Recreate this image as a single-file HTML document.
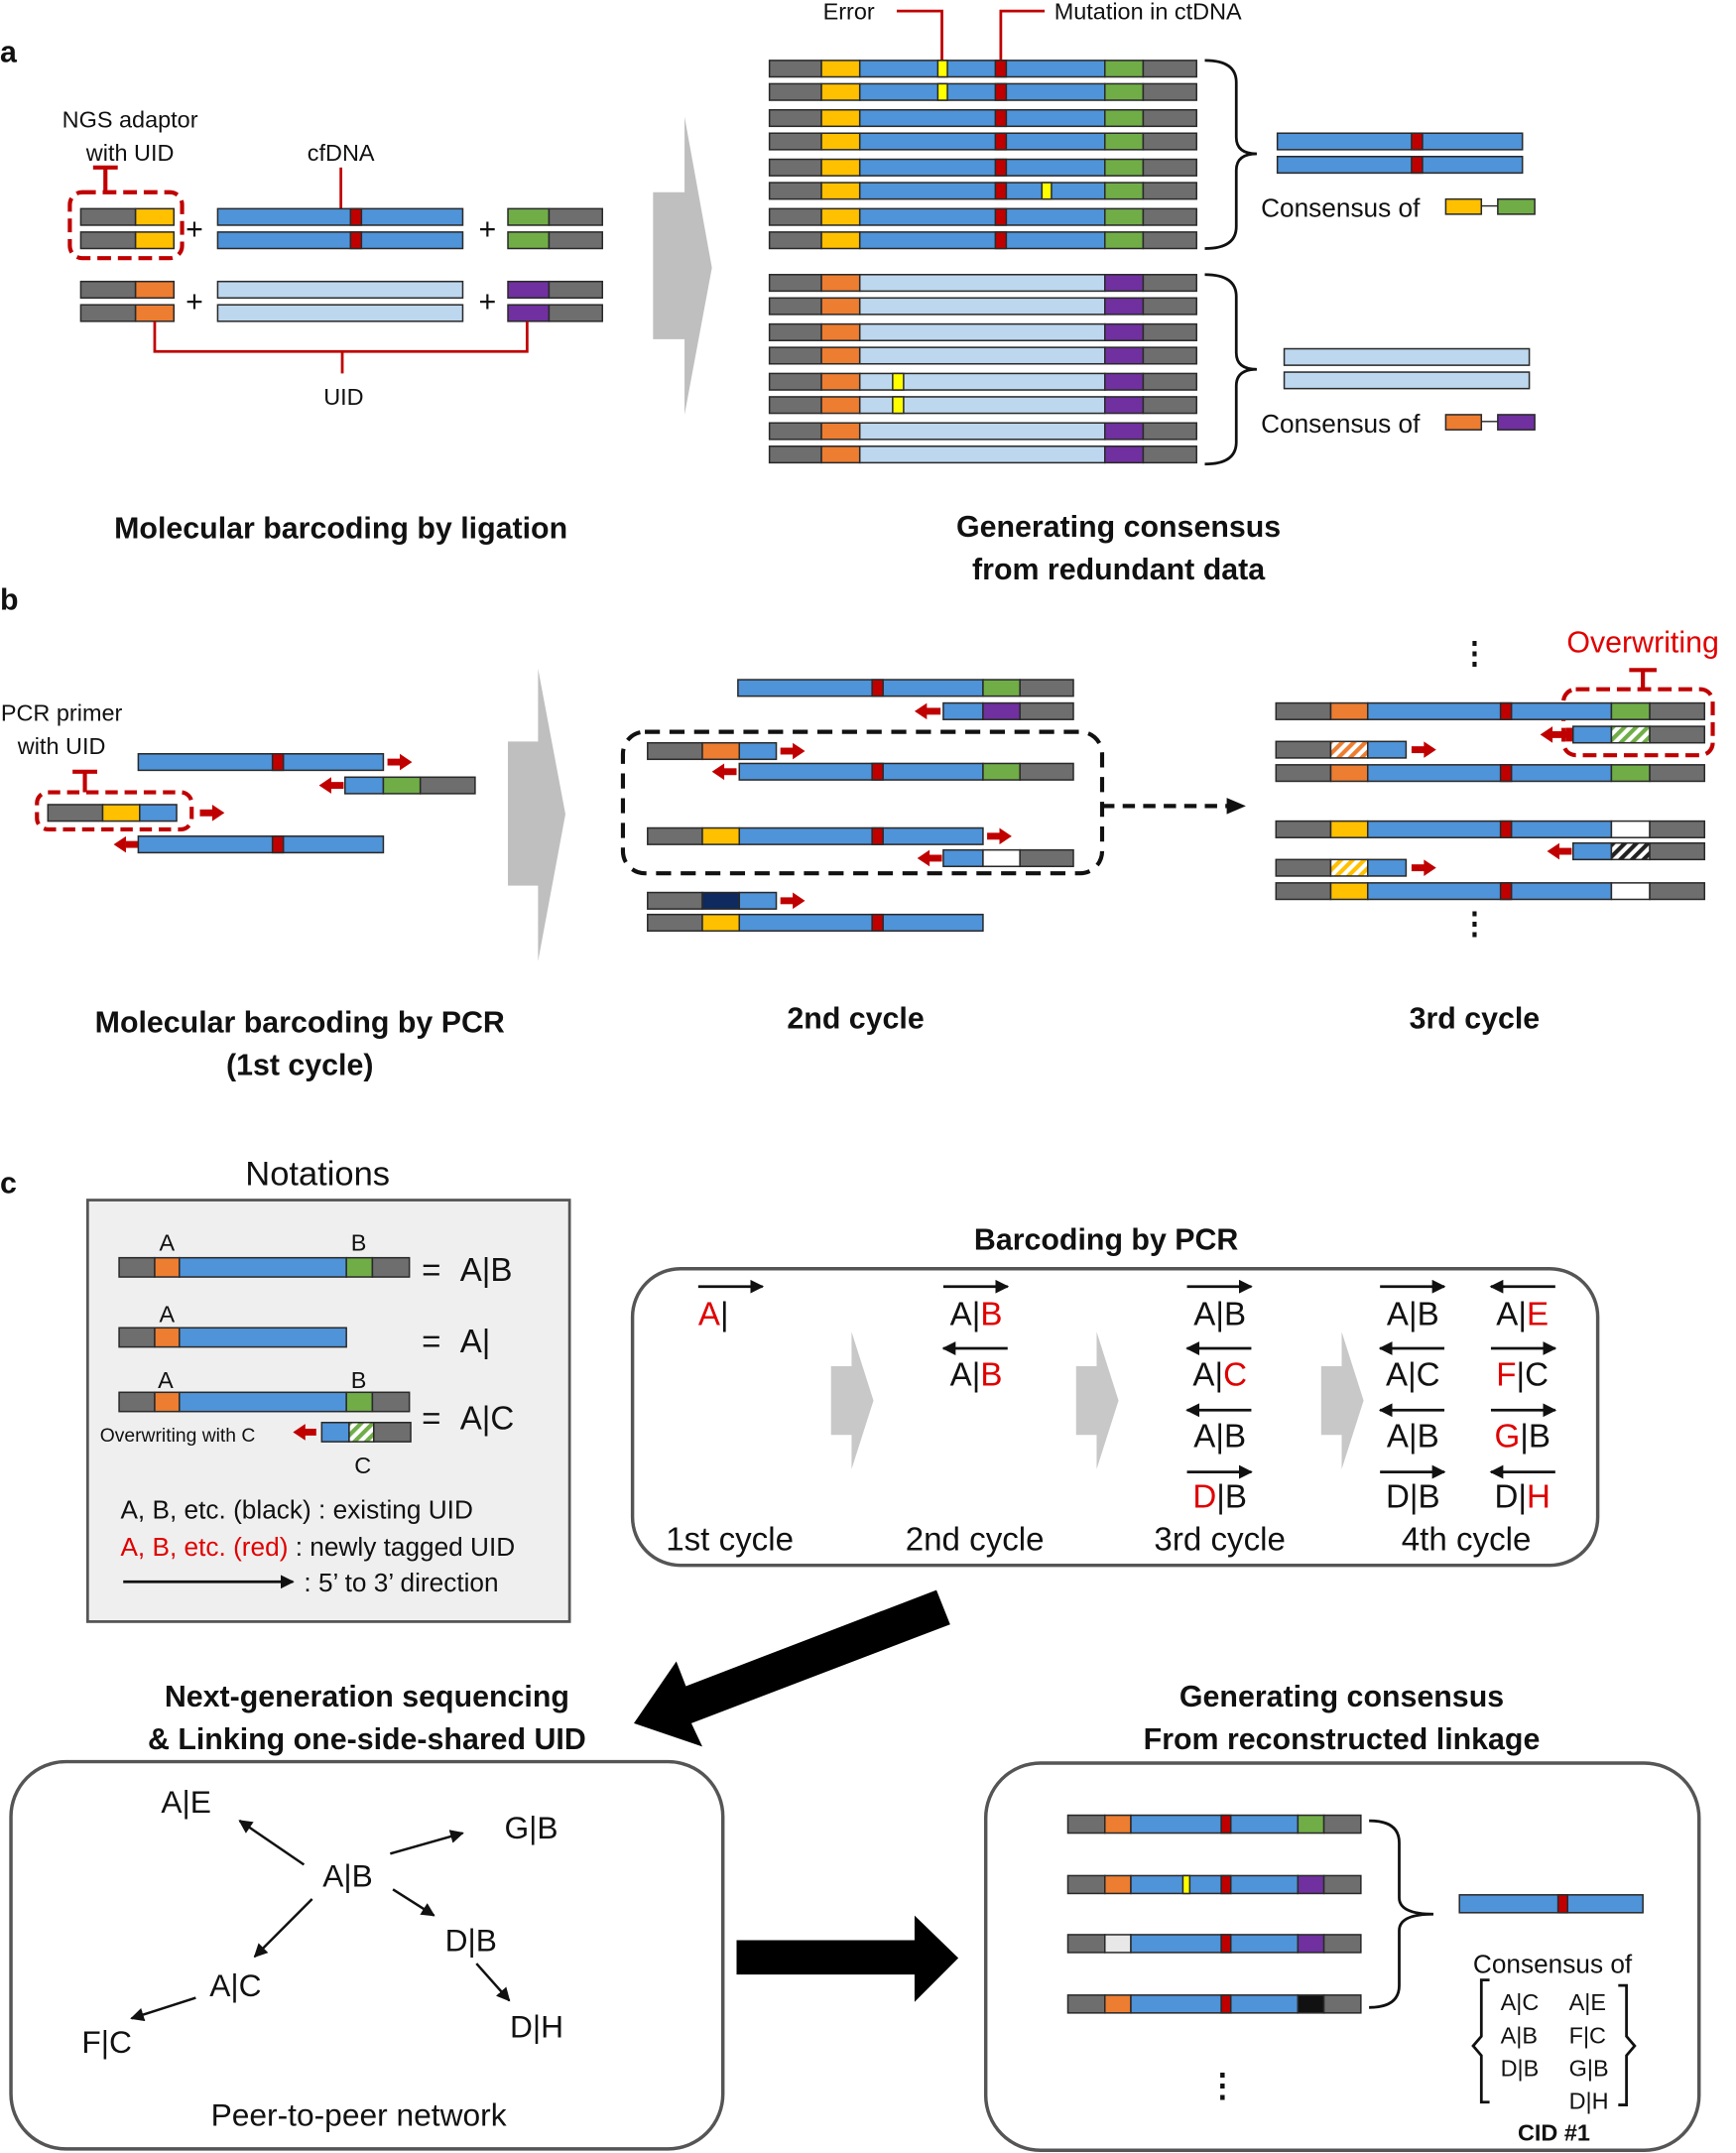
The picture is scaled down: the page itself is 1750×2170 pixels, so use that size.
<!DOCTYPE html>
<html><head><meta charset="utf-8"><style>
html,body{margin:0;padding:0;background:#fff}
svg{display:block}
text{font-family:"Liberation Sans",sans-serif;fill:#111}
.g{fill:#6e6e6e}.y{fill:#ffc000}.b{fill:#4f93d8}.gr{fill:#70ad47}.o{fill:#ed7d31}.p{fill:#7030a0}.lb{fill:#bdd7ee}.r{fill:#c00000}.w{fill:#fff}.n{fill:#0e2a5e}.k{fill:#111}.lg{fill:#e8e8e8}.ey{fill:#ffff00}
rect{stroke:#2a2a2a;stroke-width:1.1}
.t{font-size:17px}.tb{font-size:22px;font-weight:bold}.big{font-size:24px}
.red{fill:#e00000}
</style></head><body>
<svg width="1750" height="2170" viewBox="0 0 1268 1568" preserveAspectRatio="none" xmlns="http://www.w3.org/2000/svg">
<defs>
<g id="ry"><rect x="562" y="0" width="38" height="12" class="g"/><rect x="600" y="0" width="28" height="12" class="y"/><rect x="628" y="0" width="179" height="12" class="b"/><rect x="727" y="0" width="8" height="12" class="r"/><rect x="807" y="0" width="28" height="12" class="gr"/><rect x="835" y="0" width="39" height="12" class="g"/></g>
<g id="ro"><rect x="562" y="0" width="38" height="12" class="g"/><rect x="600" y="0" width="28" height="12" class="o"/><rect x="628" y="0" width="179" height="12" class="lb"/><rect x="807" y="0" width="28" height="12" class="p"/><rect x="835" y="0" width="39" height="12" class="g"/></g>
<pattern id="hg" width="6" height="6" patternUnits="userSpaceOnUse" patternTransform="rotate(45)"><rect width="6" height="6" style="fill:#fff;stroke:none"/><rect width="3" height="6" style="fill:#70ad47;stroke:none"/></pattern>
<pattern id="ho" width="6" height="6" patternUnits="userSpaceOnUse" patternTransform="rotate(45)"><rect width="6" height="6" style="fill:#fff;stroke:none"/><rect width="3" height="6" style="fill:#ed7d31;stroke:none"/></pattern>
<pattern id="hy" width="6" height="6" patternUnits="userSpaceOnUse" patternTransform="rotate(45)"><rect width="6" height="6" style="fill:#fff;stroke:none"/><rect width="3" height="6" style="fill:#ffc000;stroke:none"/></pattern>
<pattern id="hk" width="6" height="6" patternUnits="userSpaceOnUse" patternTransform="rotate(45)"><rect width="6" height="6" style="fill:#fff;stroke:none"/><rect width="3" height="6" style="fill:#222;stroke:none"/></pattern>
<marker id="ah" markerWidth="10" markerHeight="10" refX="9" refY="5" orient="auto" markerUnits="userSpaceOnUse"><path d="M0,0 L10,5 L0,10 z" fill="#111"/></marker>
</defs>

<!-- ===== a ===== -->
<text x="0" y="45" style="font-size:22px;font-weight:bold">a</text>
<text x="95" y="93" class="t" text-anchor="middle">NGS adaptor</text>
<text x="95" y="117" class="t" text-anchor="middle">with UID</text>
<text x="249" y="117" class="t" text-anchor="middle">cfDNA</text>
<path d="M68,122 H86 M77,122 V140" stroke="#c00000" stroke-width="3" fill="none"/>
<path d="M249,122 V152" stroke="#c00000" stroke-width="2" fill="none"/>
<rect x="51" y="140" width="82" height="48" rx="9" style="fill:none;stroke:#c00000;stroke-width:3;stroke-dasharray:10,5"/>
<rect x="59" y="152" width="40" height="12" class="g"/><rect x="99" y="152" width="28" height="12" class="y"/>
<rect x="59" y="169" width="40" height="12" class="g"/><rect x="99" y="169" width="28" height="12" class="y"/>
<text x="142" y="174" style="font-size:22px" text-anchor="middle">+</text>
<rect x="159" y="152" width="179" height="12" class="b"/><rect x="256" y="152" width="8" height="12" class="r"/>
<rect x="159" y="169" width="179" height="12" class="b"/><rect x="256" y="169" width="8" height="12" class="r"/>
<text x="356" y="174" style="font-size:22px" text-anchor="middle">+</text>
<rect x="371" y="152" width="30" height="12" class="gr"/><rect x="401" y="152" width="39" height="12" class="g"/>
<rect x="371" y="169" width="30" height="12" class="gr"/><rect x="401" y="169" width="39" height="12" class="g"/>
<rect x="59" y="205" width="40" height="12" class="g"/><rect x="99" y="205" width="28" height="12" class="o"/>
<rect x="59" y="222" width="40" height="12" class="g"/><rect x="99" y="222" width="28" height="12" class="o"/>
<text x="142" y="227" style="font-size:22px" text-anchor="middle">+</text>
<rect x="159" y="205" width="179" height="12" class="lb"/>
<rect x="159" y="222" width="179" height="12" class="lb"/>
<text x="356" y="227" style="font-size:22px" text-anchor="middle">+</text>
<rect x="371" y="205" width="30" height="12" class="p"/><rect x="401" y="205" width="39" height="12" class="g"/>
<rect x="371" y="222" width="30" height="12" class="p"/><rect x="401" y="222" width="39" height="12" class="g"/>
<path d="M113,234 V256 H385 V234 M250,256 V272" stroke="#c00000" stroke-width="2" fill="none"/>
<text x="251" y="295" class="t" text-anchor="middle">UID</text>
<polygon points="477,140 500,140 500,85 520,195 500,302 500,247 477,247" fill="#bfbfbf"/>

<text x="620" y="14" class="t" text-anchor="middle">Error</text>
<path d="M655,8 H688 V44" stroke="#c00000" stroke-width="2" fill="none"/>
<text x="770" y="14" class="t">Mutation in ctDNA</text>
<path d="M763,8 H731 V44" stroke="#c00000" stroke-width="2" fill="none"/>
<use href="#ry" y="44"/><use href="#ry" y="61"/><use href="#ry" y="80"/><use href="#ry" y="97"/>
<use href="#ry" y="116"/><use href="#ry" y="133"/><use href="#ry" y="152"/><use href="#ry" y="169"/>
<rect x="685" y="44" width="7" height="12" class="ey"/><rect x="685" y="61" width="7" height="12" class="ey"/>
<rect x="761" y="133" width="7" height="12" class="ey"/>
<use href="#ro" y="200"/><use href="#ro" y="217"/><use href="#ro" y="236"/><use href="#ro" y="253"/>
<use href="#ro" y="272"/><use href="#ro" y="289"/><use href="#ro" y="308"/><use href="#ro" y="325"/>
<rect x="652" y="272" width="8" height="12" class="ey"/><rect x="652" y="289" width="8" height="12" class="ey"/>
<path d="M880,44 Q903,44 903,60 V100 Q903,112 918,112 Q903,112 903,124 V165 Q903,181 880,181" stroke="#111" stroke-width="2" fill="none"/>
<path d="M880,200 Q903,200 903,216 V257 Q903,269 918,269 Q903,269 903,281 V322 Q903,338 880,338" stroke="#111" stroke-width="2" fill="none"/>
<rect x="933" y="97" width="179" height="12" class="b"/><rect x="1031" y="97" width="8" height="12" class="r"/>
<rect x="933" y="114" width="179" height="12" class="b"/><rect x="1031" y="114" width="8" height="12" class="r"/>
<text x="921" y="158" style="font-size:19px">Consensus of</text>
<rect x="1056" y="145" width="26" height="11" class="y"/><path d="M1082,150 H1094" stroke="#222"/><rect x="1094" y="145" width="27" height="11" class="gr"/>
<rect x="938" y="254" width="179" height="12" class="lb"/><rect x="938" y="271" width="179" height="12" class="lb"/>
<text x="921" y="315" style="font-size:19px">Consensus of</text>
<rect x="1056" y="302" width="26" height="11" class="o"/><path d="M1082,307 H1094" stroke="#222"/><rect x="1094" y="302" width="27" height="11" class="p"/>
<text x="249" y="392" class="tb" text-anchor="middle">Molecular barcoding by ligation</text>
<text x="817" y="391" class="tb" text-anchor="middle">Generating consensus</text>
<text x="817" y="422" class="tb" text-anchor="middle">from redundant data</text>

<!-- ===== b ===== -->
<text x="0" y="444" style="font-size:22px;font-weight:bold">b</text>
<text x="45" y="525" class="t" text-anchor="middle">PCR primer</text>
<text x="45" y="549" class="t" text-anchor="middle">with UID</text>
<rect x="101" y="549" width="179" height="12" class="b"/><rect x="199" y="549" width="8" height="12" class="r"/>
<path d="M283,555 H293" stroke="#c00000" stroke-width="5"/><polygon points="292,549 301,555 292,561" fill="#c00000"/>
<path d="M241,572 H251" stroke="#c00000" stroke-width="5"/><polygon points="242,566 233,572 242,578" fill="#c00000"/>
<rect x="252" y="566" width="28" height="12" class="b"/><rect x="280" y="566" width="27" height="12" class="gr"/><rect x="307" y="566" width="40" height="12" class="g"/>
<path d="M53,562 H71 M62,562 V577" stroke="#c00000" stroke-width="3" fill="none"/>
<rect x="27" y="577" width="113" height="27" rx="8" style="fill:none;stroke:#c00000;stroke-width:3;stroke-dasharray:9,5"/>
<rect x="35" y="586" width="40" height="12" class="g"/><rect x="75" y="586" width="27" height="12" class="y"/><rect x="102" y="586" width="27" height="12" class="b"/>
<path d="M146,592 H156" stroke="#c00000" stroke-width="5"/><polygon points="155,586 164,592 155,598" fill="#c00000"/>
<path d="M92,615 H101" stroke="#c00000" stroke-width="5"/><polygon points="92,609 83,615 92,621" fill="#c00000"/>
<rect x="101" y="609" width="179" height="12" class="b"/><rect x="199" y="609" width="8" height="12" class="r"/>
<polygon points="371,540 393,540 393,487 413,593 393,700 393,645 371,645" fill="#bfbfbf"/>

<rect x="539" y="495" width="179" height="12" class="b"/><rect x="637" y="495" width="8" height="12" class="r"/><rect x="718" y="495" width="27" height="12" class="gr"/><rect x="745" y="495" width="39" height="12" class="g"/>
<path d="M676,518 H687" stroke="#c00000" stroke-width="5"/><polygon points="677,512 668,518 677,524" fill="#c00000"/>
<rect x="689" y="512" width="29" height="12" class="b"/><rect x="718" y="512" width="27" height="12" class="p"/><rect x="745" y="512" width="39" height="12" class="g"/>
<rect x="455" y="533" width="350" height="103" rx="16" style="fill:none;stroke:#111;stroke-width:3;stroke-dasharray:11,7"/>
<rect x="473" y="541" width="40" height="12" class="g"/><rect x="513" y="541" width="27" height="12" class="o"/><rect x="540" y="541" width="27" height="12" class="b"/>
<path d="M570,547 H580" stroke="#c00000" stroke-width="5"/><polygon points="579,541 588,547 579,553" fill="#c00000"/>
<path d="M528,562 H538" stroke="#c00000" stroke-width="5"/><polygon points="529,556 520,562 529,568" fill="#c00000"/>
<rect x="540" y="556" width="178" height="12" class="b"/><rect x="637" y="556" width="8" height="12" class="r"/><rect x="718" y="556" width="27" height="12" class="gr"/><rect x="745" y="556" width="39" height="12" class="g"/>
<rect x="473" y="603" width="40" height="12" class="g"/><rect x="513" y="603" width="27" height="12" class="y"/><rect x="540" y="603" width="178" height="12" class="b"/><rect x="637" y="603" width="8" height="12" class="r"/>
<path d="M721,609 H731" stroke="#c00000" stroke-width="5"/><polygon points="730,603 739,609 730,615" fill="#c00000"/>
<path d="M678,625 H688" stroke="#c00000" stroke-width="5"/><polygon points="679,619 670,625 679,631" fill="#c00000"/>
<rect x="689" y="619" width="29" height="12" class="b"/><rect x="718" y="619" width="27" height="12" class="w"/><rect x="745" y="619" width="39" height="12" class="g"/>
<rect x="473" y="650" width="40" height="12" class="g"/><rect x="513" y="650" width="27" height="12" class="n"/><rect x="540" y="650" width="27" height="12" class="b"/>
<path d="M570,656 H580" stroke="#c00000" stroke-width="5"/><polygon points="579,650 588,656 579,662" fill="#c00000"/>
<rect x="473" y="666" width="40" height="12" class="g"/><rect x="513" y="666" width="27" height="12" class="y"/><rect x="540" y="666" width="178" height="12" class="b"/><rect x="637" y="666" width="8" height="12" class="r"/>
<path d="M805,587 H897" stroke="#111" stroke-width="3" stroke-dasharray="9,6"/><polygon points="896,581 910,587 896,593" fill="#111"/>

<text x="1077" y="483" style="font-size:22px;font-weight:bold" text-anchor="middle">⋮</text>
<text x="1077" y="680" style="font-size:22px;font-weight:bold" text-anchor="middle">⋮</text>
<text x="1200" y="475" style="font-size:22px" class="red" text-anchor="middle">Overwriting</text>
<path d="M1190,488 H1210 M1200,488 V502" stroke="#c00000" stroke-width="3" fill="none"/>
<rect x="1142" y="502" width="109" height="48" rx="9" style="fill:none;stroke:#c00000;stroke-width:3;stroke-dasharray:10,5"/>
<rect x="932" y="512" width="40" height="12" class="g"/><rect x="972" y="512" width="27" height="12" class="o"/><rect x="999" y="512" width="178" height="12" class="b"/><rect x="1096" y="512" width="8" height="12" class="r"/><rect x="1177" y="512" width="28" height="12" class="gr"/><rect x="1205" y="512" width="40" height="12" class="g"/>
<path d="M1133,535 H1144 M1146,530 V540" stroke="#c00000" stroke-width="5"/><polygon points="1134,529 1125,535 1134,541" fill="#c00000"/>
<rect x="1149" y="529" width="28" height="12" class="b"/><rect x="1177" y="529" width="28" height="12" style="fill:url(#hg)"/><rect x="1205" y="529" width="40" height="12" class="g"/>
<rect x="932" y="540" width="40" height="12" class="g"/><rect x="972" y="540" width="27" height="12" style="fill:url(#ho)"/><rect x="999" y="540" width="28" height="12" class="b"/>
<path d="M1031,546 H1041" stroke="#c00000" stroke-width="5"/><polygon points="1040,540 1049,546 1040,552" fill="#c00000"/>
<rect x="932" y="557" width="40" height="12" class="g"/><rect x="972" y="557" width="27" height="12" class="o"/><rect x="999" y="557" width="178" height="12" class="b"/><rect x="1096" y="557" width="8" height="12" class="r"/><rect x="1177" y="557" width="28" height="12" class="gr"/><rect x="1205" y="557" width="40" height="12" class="g"/>
<rect x="932" y="598" width="40" height="12" class="g"/><rect x="972" y="598" width="27" height="12" class="y"/><rect x="999" y="598" width="178" height="12" class="b"/><rect x="1096" y="598" width="8" height="12" class="r"/><rect x="1177" y="598" width="28" height="12" class="w"/><rect x="1205" y="598" width="40" height="12" class="g"/>
<path d="M1139,620 H1148" stroke="#c00000" stroke-width="5"/><polygon points="1139,614 1130,620 1139,626" fill="#c00000"/>
<rect x="1149" y="614" width="28" height="12" class="b"/><rect x="1177" y="614" width="28" height="12" style="fill:url(#hk)"/><rect x="1205" y="614" width="40" height="12" class="g"/>
<rect x="932" y="626" width="40" height="12" class="g"/><rect x="972" y="626" width="27" height="12" style="fill:url(#hy)"/><rect x="999" y="626" width="28" height="12" class="b"/>
<path d="M1031,632 H1041" stroke="#c00000" stroke-width="5"/><polygon points="1040,626 1049,632 1040,638" fill="#c00000"/>
<rect x="932" y="643" width="40" height="12" class="g"/><rect x="972" y="643" width="27" height="12" class="y"/><rect x="999" y="643" width="178" height="12" class="b"/><rect x="1096" y="643" width="8" height="12" class="r"/><rect x="1177" y="643" width="28" height="12" class="w"/><rect x="1205" y="643" width="40" height="12" class="g"/>
<text x="219" y="752" class="tb" text-anchor="middle">Molecular barcoding by PCR</text>
<text x="219" y="783" class="tb" text-anchor="middle">(1st cycle)</text>
<text x="625" y="749" class="tb" text-anchor="middle">2nd cycle</text>
<text x="1077" y="749" class="tb" text-anchor="middle">3rd cycle</text>

<!-- ===== c ===== -->
<text x="0" y="869" style="font-size:22px;font-weight:bold">c</text>
<text x="232" y="863" style="font-size:25px" text-anchor="middle">Notations</text>
<rect x="64" y="874" width="352" height="307" style="fill:#efefef;stroke:#555;stroke-width:2"/>
<text x="122" y="911" class="t" text-anchor="middle">A</text><text x="262" y="911" class="t" text-anchor="middle">B</text>
<rect x="87" y="916" width="26" height="14" class="g"/><rect x="113" y="916" width="18" height="14" class="o"/><rect x="131" y="916" width="122" height="14" class="b"/><rect x="253" y="916" width="19" height="14" class="gr"/><rect x="272" y="916" width="27" height="14" class="g"/>
<text y="933" class="big"><tspan x="308">=</tspan><tspan x="336">A|B</tspan></text>
<text x="122" y="963" class="t" text-anchor="middle">A</text>
<rect x="87" y="967" width="26" height="14" class="g"/><rect x="113" y="967" width="18" height="14" class="o"/><rect x="131" y="967" width="122" height="14" class="b"/>
<text y="985" class="big"><tspan x="308">=</tspan><tspan x="336">A|</tspan></text>
<text x="121" y="1011" class="t" text-anchor="middle">A</text><text x="262" y="1011" class="t" text-anchor="middle">B</text>
<rect x="87" y="1014" width="26" height="14" class="g"/><rect x="113" y="1014" width="18" height="14" class="o"/><rect x="131" y="1014" width="122" height="14" class="b"/><rect x="253" y="1014" width="19" height="14" class="gr"/><rect x="272" y="1014" width="27" height="14" class="g"/>
<text x="73" y="1050" style="font-size:14px">Overwriting with C</text>
<path d="M222,1043 H231" stroke="#c00000" stroke-width="5"/><polygon points="223,1037 214,1043 223,1049" fill="#c00000"/>
<rect x="235" y="1036" width="20" height="14" class="b"/><rect x="255" y="1036" width="18" height="14" style="fill:url(#hg)"/><rect x="273" y="1036" width="27" height="14" class="g"/>
<text x="265" y="1073" class="t" text-anchor="middle">C</text>
<text y="1041" class="big"><tspan x="308">=</tspan><tspan x="336">A|C</tspan></text>
<text x="88" y="1106" style="font-size:19px">A, B, etc. (black) : existing UID</text>
<text x="88" y="1133" style="font-size:19px"><tspan class="red">A, B, etc. (red)</tspan> : newly tagged UID</text>
<path d="M90,1152 H214" stroke="#111" stroke-width="2" marker-end="url(#ah)"/>
<text x="222" y="1159" style="font-size:19px">: 5’ to 3’ direction</text>

<text x="808" y="910" class="tb" text-anchor="middle">Barcoding by PCR</text>
<rect x="462" y="924" width="705" height="216" rx="35" style="fill:none;stroke:#555;stroke-width:2.5"/>
<polygon points="607,995 622,995 622,970 638,1020 622,1070 622,1045 607,1045" fill="#c8c8c8"/>
<polygon points="786,995 801,995 801,970 817,1020 801,1070 801,1045 786,1045" fill="#c8c8c8"/>
<polygon points="965,995 980,995 980,970 996,1020 980,1070 980,1045 965,1045" fill="#c8c8c8"/>
<g style="font-size:24px">
<path d="M510,937 H557" stroke="#111" stroke-width="2" marker-end="url(#ah)"/>
<text x="510" y="965"><tspan class="red">A</tspan>|</text>
<path d="M689,937 H736" stroke="#111" stroke-width="2" marker-end="url(#ah)"/>
<text x="713" y="965" text-anchor="middle">A|<tspan class="red">B</tspan></text>
<path d="M736,982 H689" stroke="#111" stroke-width="2" marker-end="url(#ah)"/>
<text x="713" y="1009" text-anchor="middle">A|<tspan class="red">B</tspan></text>
<path d="M867,937 H914" stroke="#111" stroke-width="2" marker-end="url(#ah)"/>
<text x="891" y="965" text-anchor="middle">A|B</text>
<path d="M914,982 H867" stroke="#111" stroke-width="2" marker-end="url(#ah)"/>
<text x="891" y="1009" text-anchor="middle">A|<tspan class="red">C</tspan></text>
<path d="M914,1027 H867" stroke="#111" stroke-width="2" marker-end="url(#ah)"/>
<text x="891" y="1054" text-anchor="middle">A|B</text>
<path d="M867,1072 H914" stroke="#111" stroke-width="2" marker-end="url(#ah)"/>
<text x="891" y="1098" text-anchor="middle"><tspan class="red">D</tspan>|B</text>
<path d="M1008,937 H1055" stroke="#111" stroke-width="2" marker-end="url(#ah)"/>
<text x="1032" y="965" text-anchor="middle">A|B</text>
<path d="M1055,982 H1008" stroke="#111" stroke-width="2" marker-end="url(#ah)"/>
<text x="1032" y="1009" text-anchor="middle">A|C</text>
<path d="M1055,1027 H1008" stroke="#111" stroke-width="2" marker-end="url(#ah)"/>
<text x="1032" y="1054" text-anchor="middle">A|B</text>
<path d="M1008,1072 H1055" stroke="#111" stroke-width="2" marker-end="url(#ah)"/>
<text x="1032" y="1098" text-anchor="middle">D|B</text>
<path d="M1136,937 H1089" stroke="#111" stroke-width="2" marker-end="url(#ah)"/>
<text x="1112" y="965" text-anchor="middle">A|<tspan class="red">E</tspan></text>
<path d="M1089,982 H1136" stroke="#111" stroke-width="2" marker-end="url(#ah)"/>
<text x="1112" y="1009" text-anchor="middle"><tspan class="red">F</tspan>|C</text>
<path d="M1089,1027 H1136" stroke="#111" stroke-width="2" marker-end="url(#ah)"/>
<text x="1112" y="1054" text-anchor="middle"><tspan class="red">G</tspan>|B</text>
<path d="M1136,1072 H1089" stroke="#111" stroke-width="2" marker-end="url(#ah)"/>
<text x="1112" y="1098" text-anchor="middle">D|<tspan class="red">H</tspan></text>
<text x="533" y="1129" text-anchor="middle">1st cycle</text>
<text x="712" y="1129" text-anchor="middle">2nd cycle</text>
<text x="891" y="1129" text-anchor="middle">3rd cycle</text>
<text x="1071" y="1129" text-anchor="middle">4th cycle</text>
</g>

<polygon points="684,1158 694,1183 505,1255 513,1272 463,1255 494,1210 501,1228" fill="#000"/>

<text x="268" y="1243" class="tb" text-anchor="middle">Next-generation sequencing</text>
<text x="268" y="1274" class="tb" text-anchor="middle">&amp; Linking one-side-shared UID</text>
<rect x="8" y="1283" width="520" height="282" rx="40" style="fill:none;stroke:#555;stroke-width:2.5"/>
<g style="font-size:23px" text-anchor="middle">
<text x="254" y="1374">A|B</text><text x="136" y="1320">A|E</text><text x="388" y="1339">G|B</text>
<text x="344" y="1421">D|B</text><text x="172" y="1454">A|C</text><text x="78" y="1495">F|C</text><text x="392" y="1484">D|H</text>
</g>
<g stroke="#111" stroke-width="1.8" fill="none">
<path d="M222,1358 L175,1326" marker-end="url(#ah)"/>
<path d="M285,1350 L338,1335" marker-end="url(#ah)"/>
<path d="M287,1376 L317,1395" marker-end="url(#ah)"/>
<path d="M228,1383 L186,1425" marker-end="url(#ah)"/>
<path d="M143,1455 L96,1470" marker-end="url(#ah)"/>
<path d="M348,1430 L372,1457" marker-end="url(#ah)"/>
</g>
<text x="262" y="1548" style="font-size:23px" text-anchor="middle">Peer-to-peer network</text>
<polygon points="538,1413 668,1413 668,1395 700,1426 668,1458 668,1438 538,1438" fill="#000"/>

<text x="980" y="1243" class="tb" text-anchor="middle">Generating consensus</text>
<text x="980" y="1274" class="tb" text-anchor="middle">From reconstructed linkage</text>
<rect x="720" y="1284" width="521" height="282" rx="40" style="fill:none;stroke:#555;stroke-width:2.5"/>
<rect x="780" y="1322" width="27" height="13" class="g"/><rect x="807" y="1322" width="19" height="13" class="o"/><rect x="826" y="1322" width="122" height="13" class="b"/><rect x="892" y="1322" width="7" height="13" class="r"/><rect x="948" y="1322" width="19" height="13" class="gr"/><rect x="967" y="1322" width="27" height="13" class="g"/>
<rect x="780" y="1366" width="27" height="13" class="g"/><rect x="807" y="1366" width="19" height="13" class="o"/><rect x="826" y="1366" width="122" height="13" class="b"/><rect x="864" y="1366" width="5" height="13" class="ey"/><rect x="892" y="1366" width="7" height="13" class="r"/><rect x="948" y="1366" width="19" height="13" class="p"/><rect x="967" y="1366" width="27" height="13" class="g"/>
<rect x="780" y="1409" width="27" height="13" class="g"/><rect x="807" y="1409" width="19" height="13" class="lg"/><rect x="826" y="1409" width="122" height="13" class="b"/><rect x="892" y="1409" width="7" height="13" class="r"/><rect x="948" y="1409" width="19" height="13" class="p"/><rect x="967" y="1409" width="27" height="13" class="g"/>
<rect x="780" y="1453" width="27" height="13" class="g"/><rect x="807" y="1453" width="19" height="13" class="o"/><rect x="826" y="1453" width="122" height="13" class="b"/><rect x="892" y="1453" width="7" height="13" class="r"/><rect x="948" y="1453" width="19" height="13" class="k"/><rect x="967" y="1453" width="27" height="13" class="g"/>
<text x="893" y="1527" style="font-size:24px;font-weight:bold" text-anchor="middle">⋮</text>
<path d="M1000,1326 Q1022,1326 1022,1342 V1382 Q1022,1394 1047,1394 Q1022,1394 1022,1406 V1446 Q1022,1462 1000,1462" stroke="#111" stroke-width="2" fill="none"/>
<rect x="1066" y="1380" width="134" height="13" class="b"/><rect x="1138" y="1380" width="7" height="13" class="r"/>
<text x="1134" y="1437" style="font-size:19px" text-anchor="middle">Consensus of</text>
<path d="M1088,1442 H1082 V1483 L1076,1490 L1082,1497 V1531 H1088" stroke="#111" stroke-width="2" fill="none"/>
<path d="M1182,1446 H1188 V1483 L1194,1490 L1188,1497 V1533 H1182" stroke="#111" stroke-width="2" fill="none"/>
<g style="font-size:17px">
<text x="1096" y="1464">A|C</text><text x="1146" y="1464">A|E</text>
<text x="1096" y="1488">A|B</text><text x="1146" y="1488">F|C</text>
<text x="1096" y="1512">D|B</text><text x="1146" y="1512">G|B</text>
<text x="1146" y="1536">D|H</text>
</g>
<text x="1135" y="1559" style="font-size:17px;font-weight:bold" text-anchor="middle">CID #1</text>
</svg>
</body></html>
